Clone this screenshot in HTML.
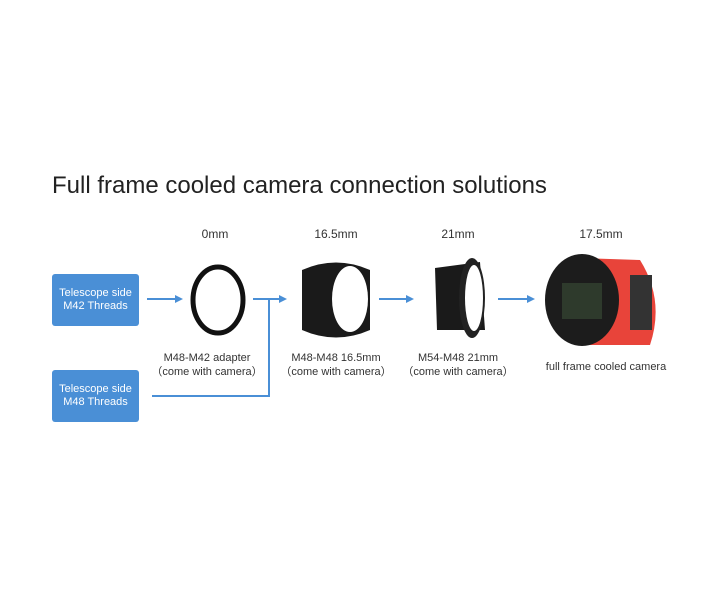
<!DOCTYPE html>
<html><head><meta charset="utf-8"><style>
body{margin:0;width:720px;height:600px;background:#fff;position:relative;overflow:hidden;font-family:"Liberation Sans","DejaVu Sans",sans-serif;color:#222}
.t{position:absolute;white-space:nowrap}
.c{position:absolute;text-align:center;transform:translateX(-50%);white-space:nowrap;font-size:11px;line-height:14px;color:#333}
.box{position:absolute;left:52px;width:87px;height:52px;background:#4a8fd6;border-radius:3px;color:#fff;font-size:11px;line-height:13px;display:flex;align-items:center;justify-content:center;text-align:center}
</style></head><body>
<div class="t" style="left:52px;top:172px;font-size:24px;color:#222">Full frame cooled camera connection solutions</div>
<div class="c" style="left:215px;top:227px;font-size:12px">0mm</div>
<div class="c" style="left:336px;top:227px;font-size:12px">16.5mm</div>
<div class="c" style="left:458px;top:227px;font-size:12px">21mm</div>
<div class="c" style="left:601px;top:227px;font-size:12px">17.5mm</div>
<div class="box" style="top:274px">Telescope side<br>M42 Threads</div>
<div class="box" style="top:370px">Telescope side<br>M48 Threads</div>
<svg width="720" height="600" style="position:absolute;left:0;top:0">
<defs><marker id="a" markerWidth="4" markerHeight="4" refX="3" refY="2" orient="auto"><path d="M0,0L4,2L0,4z" fill="#4a8fd6"/></marker></defs>
<g stroke="#4a8fd6" stroke-width="2" fill="none">
<line x1="147" y1="299" x2="181" y2="299" marker-end="url(#a)"/>
<line x1="253" y1="299" x2="285" y2="299" marker-end="url(#a)"/>
<polyline points="152,396 269,396 269,299"/>
<line x1="379" y1="299" x2="412" y2="299" marker-end="url(#a)"/>
<line x1="498" y1="299" x2="533" y2="299" marker-end="url(#a)"/>
</g>
<ellipse cx="218" cy="300" rx="25" ry="33" fill="none" stroke="#111" stroke-width="5"/>
<path d="M302,270 Q336,255 370,270 L370,330 Q336,345 302,330Z" fill="#1a1a1a"/>
<ellipse cx="350" cy="299" rx="18" ry="33" fill="#fff"/>
<path d="M435,268 L480,262 L485,330 L437,330Z" fill="#1a1a1a"/>
<ellipse cx="472" cy="298" rx="13" ry="40" fill="#222"/>
<ellipse cx="474" cy="298" rx="9" ry="33" fill="#fff"/>
<path d="M580,258 L640,260 Q665,300 650,345 L580,345Z" fill="#e8443a"/>
<rect x="630" y="275" width="22" height="55" fill="#333"/>
<ellipse cx="582" cy="300" rx="37" ry="46" fill="#1c1c1c"/>
<rect x="562" y="283" width="40" height="36" fill="#2e3a2c"/>
</svg>
<div class="c" style="left:207px;top:351px">M48-M42 adapter<br>（come with camera）</div>
<div class="c" style="left:336px;top:351px">M48-M48 16.5mm<br>（come with camera）</div>
<div class="c" style="left:458px;top:351px">M54-M48 21mm<br>（come with camera）</div>
<div class="c" style="left:606px;top:360px">full frame cooled camera</div>
</body></html>
